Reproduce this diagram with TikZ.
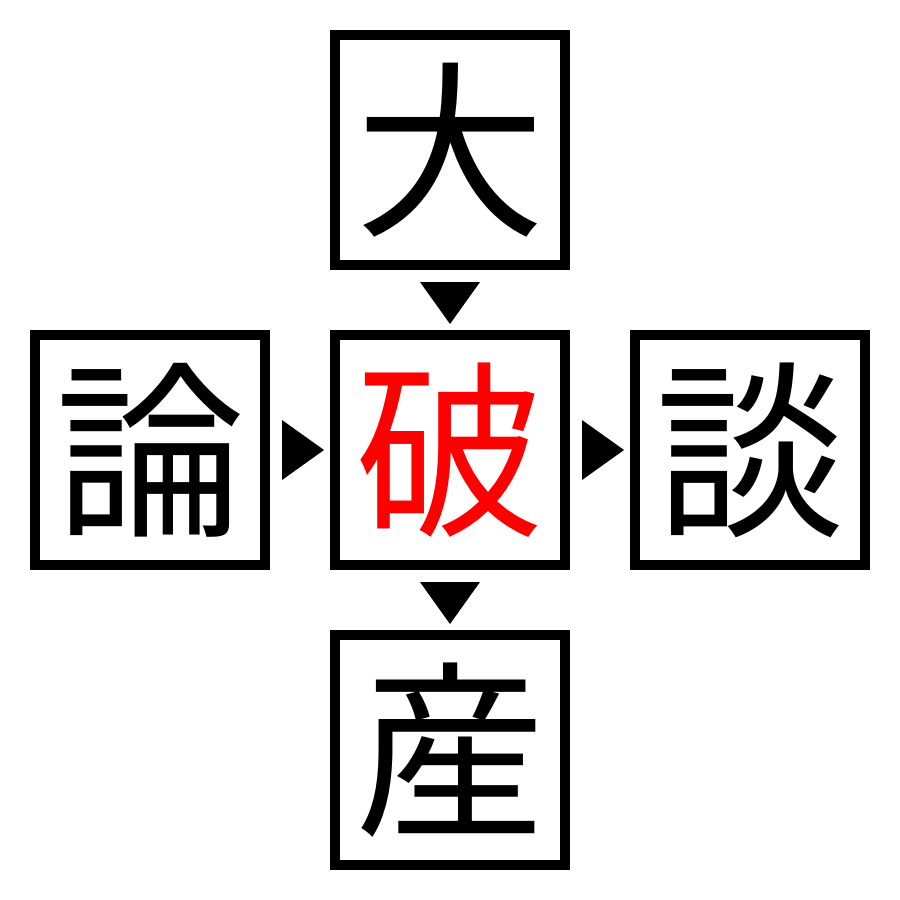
\documentclass[tikz,border=0pt]{standalone}
\usepackage{fontspec}
\newfontfamily\cjk{Noto Sans CJK JP}
\begin{document}
\begin{tikzpicture}[x=1pt,y=-1pt,
  kbox/.style={draw=black,line width=10pt,minimum size=230pt,inner sep=0pt,outer sep=0pt,
    font=\cjk\fontsize{190}{190}\selectfont},
  tri/.style={fill=black,draw=none}]
\useasboundingbox (0,0) rectangle (900,900);
\node[kbox] (top) at (450,150) {大};
\node[kbox,text={rgb,255:red,255;green,0;blue,0}] (mid) at (450,450) {破};
\node[kbox] (left) at (150,450) {論};
\node[kbox] (right) at (750,450) {談};
\node[kbox] (bot) at (450,750) {産};
\fill[tri] (420,282) -- (480,282) -- (450,324) -- cycle;
\fill[tri] (420,582) -- (480,582) -- (450,624) -- cycle;
\fill[tri] (282,420) -- (282,480) -- (324,450) -- cycle;
\fill[tri] (582,420) -- (582,480) -- (624,450) -- cycle;
\end{tikzpicture}
\end{document}
